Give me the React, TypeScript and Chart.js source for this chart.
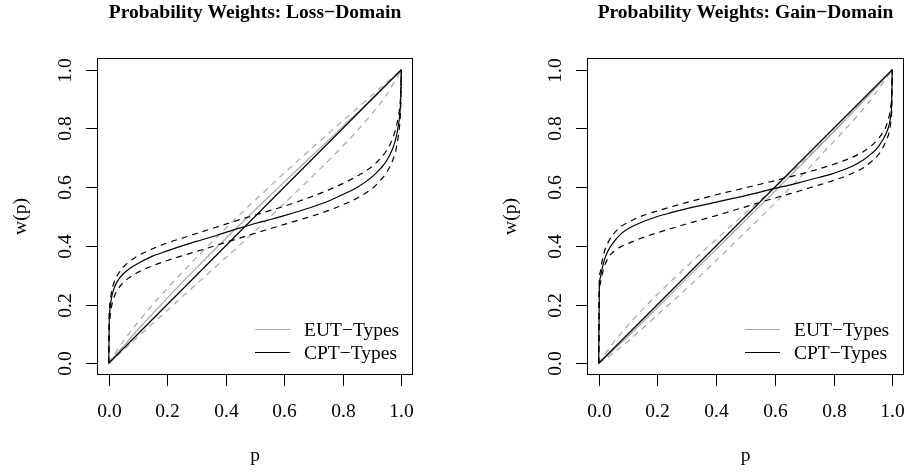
import React, { useEffect, useRef } from "react";
import { Chart, registerables } from "chart.js";
Chart.register(...registerables);

// ---------------- data ----------------
const P_CPT = [0, 0.002, 0.005, 0.01, 0.02, 0.03, 0.05, 0.075, 0.1, 0.15, 0.2, 0.25, 0.3, 0.35, 0.4, 0.45, 0.5, 0.55, 0.6, 0.65, 0.7, 0.75, 0.8, 0.85, 0.9, 0.93, 0.95, 0.97, 0.98, 0.99, 0.995, 0.998, 1];
const P_EUT = [0, 0.05, 0.1, 0.2, 0.3, 0.4, 0.5, 0.6, 0.7, 0.8, 0.9, 0.95, 1];
const P_DIAG = [0, 1];
const W_DIAG = [0, 1];

// Loss domain
const LOSS_CPT = [0, 0.15, 0.19, 0.225, 0.26, 0.28, 0.305, 0.325, 0.34, 0.365, 0.383, 0.4, 0.415, 0.43, 0.446, 0.461, 0.476, 0.489, 0.503, 0.518, 0.534, 0.552, 0.575, 0.6, 0.635, 0.665, 0.69, 0.73, 0.76, 0.81, 0.85, 0.9, 1];
const LOSS_CPT_HI = [0, 0.17, 0.21, 0.245, 0.28, 0.3, 0.328, 0.35, 0.366, 0.39, 0.41, 0.426, 0.442, 0.458, 0.474, 0.49, 0.505, 0.52, 0.535, 0.552, 0.57, 0.59, 0.612, 0.638, 0.67, 0.7, 0.725, 0.765, 0.795, 0.84, 0.875, 0.92, 1];
const LOSS_CPT_LO = [0, 0.12, 0.16, 0.195, 0.23, 0.25, 0.275, 0.295, 0.31, 0.332, 0.35, 0.366, 0.381, 0.396, 0.412, 0.427, 0.443, 0.458, 0.473, 0.488, 0.503, 0.52, 0.54, 0.563, 0.595, 0.625, 0.65, 0.69, 0.72, 0.775, 0.82, 0.875, 1];
const LOSS_EUT = [0, 0.058, 0.115, 0.222, 0.325, 0.425, 0.522, 0.618, 0.712, 0.806, 0.902, 0.951, 1];
const LOSS_EUT_HI = [0, 0.075, 0.14, 0.255, 0.36, 0.46, 0.555, 0.648, 0.738, 0.826, 0.913, 0.957, 1];
const LOSS_EUT_LO = [0, 0.045, 0.09, 0.18, 0.27, 0.36, 0.45, 0.545, 0.64, 0.74, 0.85, 0.915, 1];

// Gain domain
const GAIN_CPT = [0, 0.26, 0.29, 0.315, 0.355, 0.38, 0.412, 0.44, 0.458, 0.482, 0.5, 0.514, 0.527, 0.538, 0.549, 0.56, 0.571, 0.583, 0.596, 0.607, 0.62, 0.633, 0.647, 0.665, 0.692, 0.715, 0.735, 0.765, 0.785, 0.815, 0.845, 0.885, 1];
const GAIN_CPT_HI = [0, 0.28, 0.31, 0.34, 0.383, 0.408, 0.44, 0.465, 0.48, 0.503, 0.519, 0.534, 0.548, 0.561, 0.574, 0.586, 0.598, 0.61, 0.622, 0.635, 0.648, 0.662, 0.678, 0.696, 0.72, 0.742, 0.762, 0.79, 0.81, 0.845, 0.875, 0.91, 1];
const GAIN_CPT_LO = [0, 0.24, 0.27, 0.295, 0.332, 0.355, 0.38, 0.397, 0.408, 0.428, 0.445, 0.46, 0.475, 0.489, 0.503, 0.518, 0.533, 0.548, 0.563, 0.577, 0.592, 0.607, 0.623, 0.641, 0.665, 0.688, 0.707, 0.738, 0.76, 0.79, 0.82, 0.86, 1];
const GAIN_EUT = [0, 0.045, 0.092, 0.19, 0.29, 0.388, 0.487, 0.586, 0.686, 0.788, 0.892, 0.945, 1];
const GAIN_EUT_HI = [0, 0.07, 0.13, 0.235, 0.33, 0.422, 0.512, 0.6, 0.692, 0.79, 0.893, 0.946, 1];
const GAIN_EUT_LO = [0, 0.035, 0.075, 0.165, 0.255, 0.35, 0.447, 0.545, 0.648, 0.755, 0.865, 0.93, 1];

const TICK_VALUES = [0, 0.2, 0.4, 0.6, 0.8, 1.0];
const TICK_LABELS = ["0.0", "0.2", "0.4", "0.6", "0.8", "1.0"];
const LEGEND_LABELS = ["EUT\u2212Types", "CPT\u2212Types"];
const TITLES = ["Probability Weights: Loss\u2212Domain", "Probability Weights: Gain\u2212Domain"];
const X_LABEL = "p";
const Y_LABEL = "w(p)";

// ---------------- styling ----------------
const FONT = '"Liberation Serif", "Times New Roman", Times, serif';
const FS = 19.5;
const BLACK = "#000000";
const GRAY = "#a6a6a6";
const DASH = [6, 5];
const LW = 1.2;
const LEGEND_COLORS = [GRAY, BLACK];

const toPts = (ps: number[], ws: number[]) => ps.map((p, i) => ({ x: p, y: ws[i] }));

function series(ps: number[], ws: number[], color: string, dashed: boolean) {
  return {
    data: toPts(ps, ws),
    borderColor: color,
    borderWidth: LW,
    borderDash: dashed ? DASH : [],
    pointRadius: 0,
    fill: false,
    cubicInterpolationMode: "monotone" as const,
  };
}

const decorPlugin = (title: string) => ({
  id: "rdecor",
  afterDraw(chart: any) {
    const { ctx, chartArea: a, scales } = chart;
    const xs = scales.x;
    const ys = scales.y;
    ctx.save();
    ctx.strokeStyle = BLACK;
    ctx.fillStyle = BLACK;
    ctx.lineWidth = 1;
    ctx.setLineDash([]);
    // box
    ctx.strokeRect(a.left + 0.5, a.top + 0.5, a.right - a.left - 1, a.bottom - a.top - 1);
    // x ticks
    ctx.font = `${FS}px ${FONT}`;
    ctx.textAlign = "center";
    ctx.textBaseline = "alphabetic";
    TICK_VALUES.forEach((v, i) => {
      const px = Math.round(xs.getPixelForValue(v)) + 0.5;
      ctx.beginPath();
      ctx.moveTo(px, a.bottom);
      ctx.lineTo(px, a.bottom + 11);
      ctx.stroke();
      ctx.fillText(TICK_LABELS[i], px, a.bottom + 42);
    });
    // y ticks
    TICK_VALUES.forEach((v, i) => {
      const py = Math.round(ys.getPixelForValue(v)) + 0.5;
      ctx.beginPath();
      ctx.moveTo(a.left, py);
      ctx.lineTo(a.left - 11, py);
      ctx.stroke();
      ctx.save();
      ctx.translate(a.left - 26.5, py);
      ctx.rotate(-Math.PI / 2);
      ctx.fillText(TICK_LABELS[i], 0, 0);
      ctx.restore();
    });
    const cx = (a.left + a.right) / 2;
    const cy = (a.top + a.bottom) / 2;
    // axis labels
    ctx.fillText(X_LABEL, cx, a.bottom + 85.5);
    ctx.save();
    ctx.translate(a.left - 71, cy);
    ctx.rotate(-Math.PI / 2);
    ctx.fillText(Y_LABEL, 0, 0);
    ctx.restore();
    // title
    ctx.font = `bold ${FS}px ${FONT}`;
    ctx.fillText(title, cx, 17.5);
    // legend
    ctx.font = `${FS}px ${FONT}`;
    ctx.textAlign = "left";
    ctx.lineWidth = LW;
    LEGEND_LABELS.forEach((lab, i) => {
      const ly = Math.round(a.bottom - 46 + i * 23) + 0.5;
      ctx.strokeStyle = LEGEND_COLORS[i];
      ctx.beginPath();
      ctx.moveTo(a.left + 158, ly);
      ctx.lineTo(a.left + 193, ly);
      ctx.stroke();
      ctx.fillText(lab, a.left + 207, ly + 6.3);
    });
    ctx.restore();
  },
});

type PanelProps = {
  title: string;
  left: number;
  pad: { left: number; right: number; top: number; bottom: number };
  cpt: number[];
  cptHi: number[];
  cptLo: number[];
  eut: number[];
  eutHi: number[];
  eutLo: number[];
};

function Panel(props: PanelProps) {
  const ref = useRef<HTMLCanvasElement | null>(null);
  useEffect(() => {
    if (!ref.current) return;
    const chart = new Chart(ref.current, {
      type: "line",
      data: {
        datasets: [
          series(P_DIAG, W_DIAG, BLACK, false),
          series(P_CPT, props.cpt, BLACK, false),
          series(P_CPT, props.cptHi, BLACK, true),
          series(P_CPT, props.cptLo, BLACK, true),
          series(P_EUT, props.eut, GRAY, false),
          series(P_EUT, props.eutHi, GRAY, true),
          series(P_EUT, props.eutLo, GRAY, true),
        ],
      },
      options: {
        animation: false,
        responsive: false,
        devicePixelRatio: 1,
        layout: { padding: props.pad },
        scales: {
          x: { type: "linear", min: -0.04, max: 1.04, display: false },
          y: { type: "linear", min: -0.04, max: 1.04, display: false },
        },
        plugins: {
          legend: { display: false },
          title: { display: false },
          tooltip: { enabled: false },
        },
      },
      plugins: [decorPlugin(props.title)],
    } as any);
    return () => chart.destroy();
  }, []);
  return (
    <canvas
      ref={ref}
      width={453}
      height={474}
      style={{ position: "absolute", left: props.left, top: 0, width: 453, height: 474 }}
    />
  );
}

export default function App() {
  return (
    <div style={{ position: "absolute", left: 0, top: 0, width: 907, height: 474, background: "#fff" }}>
      <Panel
        title={TITLES[0]}
        left={0}
        pad={{ left: 97, right: 40, top: 58, bottom: 99 }}
        cpt={LOSS_CPT}
        cptHi={LOSS_CPT_HI}
        cptLo={LOSS_CPT_LO}
        eut={LOSS_EUT}
        eutHi={LOSS_EUT_HI}
        eutLo={LOSS_EUT_LO}
      />
      <Panel
        title={TITLES[1]}
        left={454}
        pad={{ left: 133, right: 3, top: 58, bottom: 99 }}
        cpt={GAIN_CPT}
        cptHi={GAIN_CPT_HI}
        cptLo={GAIN_CPT_LO}
        eut={GAIN_EUT}
        eutHi={GAIN_EUT_HI}
        eutLo={GAIN_EUT_LO}
      />
    </div>
  );
}
